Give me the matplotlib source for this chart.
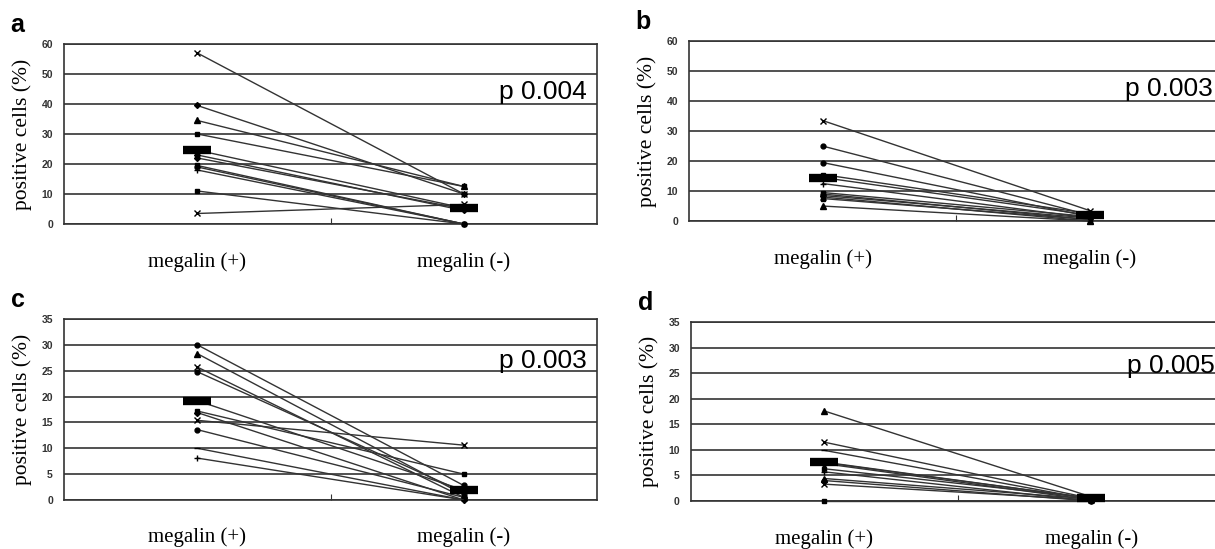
import matplotlib
matplotlib.use("Agg")
import matplotlib.pyplot as plt

# category labels
groups = ["megalin (+)", "megalin (-)"]

# panel a: paired values (megalin + / megalin -)
a_pos = [57, 39.5, 34.5, 30, 23, 22, 19.5, 19, 18, 11, 3.5]
a_neg = [10, 10, 12.5, 12.5, 4.5, 5, 0, 0, 0, 0, 6.5]
a_mean = [24.6, 5.3]
a_p = "p 0.004"

# panel b
b_pos = [33.5, 25, 19.5, 15.5, 12.5, 9.5, 9, 8.5, 8, 7.5, 5]
b_neg = [3.5, 2, 1.5, 2.5, 1, 1.5, 0.5, 1, 0, 0.5, 0]
b_mean = [14.5, 2.0]
b_p = "p 0.003"

# panel c
c_pos = [30, 28.3, 25.7, 24.8, 17.2, 16.9, 15.4, 13.6, 10, 8.1]
c_neg = [2.8, 1, 0.5, 1.5, 5, 0, 10.6, 0.5, 0, 0]
c_mean = [19.2, 1.9]
c_p = "p 0.003"

# panel d
d_pos = [17.6, 11.5, 9.9, 7.5, 7.3, 6.3, 5.7, 4.4, 4.0, 3.3, 0]
d_neg = [0.8, 0.5, 0.3, 0.5, 0.2, 0.6, 0, 0.4, 0, 0.2, 0]
d_mean = [7.6, 0.5]
d_p = "p 0.005"

# marker per line, per panel
a_marks = ["x", "D", "^", "s", "D", "D", "s", "o", "+", "s", "x"]
b_marks = ["x", "o", "o", "s", "+", "s", "s", "D", "x", "s", "^"]
c_marks = ["o", "^", "x", "o", "s", "D", "x", "o", "_", "+"]
d_marks = ["^", "x", "_", "D", "D", "s", "+", "^", "o", "x", "s"]

serif = ["Liberation Serif", "DejaVu Serif"]
sans = ["Liberation Sans", "DejaVu Sans"]
msize = {"D": 3, "o": 3.5, "s": 3.5, "^": 4, "x": 4, "+": 5, "_": 5}

fig = plt.figure(figsize=(12.15, 5.49), dpi=100)

panels = [
    ("a", [0.0527, 0.592, 0.4387, 0.3279], a_pos, a_neg, a_mean, a_marks, a_p, 60, 10, 44),
    ("b", [0.5671, 0.5974, 0.4395, 0.3279], b_pos, b_neg, b_mean, b_marks, b_p, 60, 10, 44),
    ("c", [0.0527, 0.0893, 0.4387, 0.3297], c_pos, c_neg, c_mean, c_marks, c_p, 35, 5, 26.8),
    ("d", [0.5687, 0.0874, 0.4395, 0.3260], d_pos, d_neg, d_mean, d_marks, d_p, 35, 5, 26.5),
]

for letter, rect, pos, neg, mean, marks, ptxt, ymax, step, py in panels:
    ax = fig.add_axes(rect)
    xs = [0.5, 1.5]
    for p, n, m in zip(pos, neg, marks):
        ax.plot(xs, [p, n], color="#333333", lw=1.0, marker=m, ms=msize[m],
                mfc="black", mec="black", mew=1.0, zorder=3, clip_on=False)
    # mean bar
    ax.plot(xs, mean, color="#333333", lw=1.0, marker="_", ms=20, mew=6,
            mec="black", zorder=4, clip_on=False)

    ax.set_xlim(0, 2)
    ax.set_ylim(0, ymax)
    ax.set_yticks(range(0, ymax + 1, step))
    ax.grid(axis="y", color="#333333", lw=1.2)
    ax.set_axisbelow(True)
    for s in ax.spines.values():
        s.set_color("#333333")
        s.set_linewidth(1.2)

    ax.set_xticks([1])
    ax.set_xticklabels([""])
    ax.tick_params(axis="x", which="major", direction="in", length=4, color="#333333")
    ax.set_xticks(xs, minor=True)
    ax.set_xticklabels(groups, minor=True, fontsize=15, family=serif)
    ax.tick_params(axis="x", which="minor", length=0, pad=20)
    ax.tick_params(axis="y", length=0, pad=8, labelsize=7.5, labelcolor="#333333")
    for lab in ax.get_yticklabels():
        lab.set_fontweight("bold")
        lab.set_family(sans)

    ax.set_ylabel("positive cells (%)", fontsize=15.5, family=serif, labelpad=7)
    ax.text(0.98, py, ptxt, transform=ax.get_yaxis_transform(), ha="right",
            va="center", fontsize=19, family=sans)
    ax.text(-0.1, 1.04, letter, transform=ax.transAxes, fontsize=18,
            fontweight="bold", family=sans, va="bottom", ha="left")

fig.savefig("out.png", dpi=100)
